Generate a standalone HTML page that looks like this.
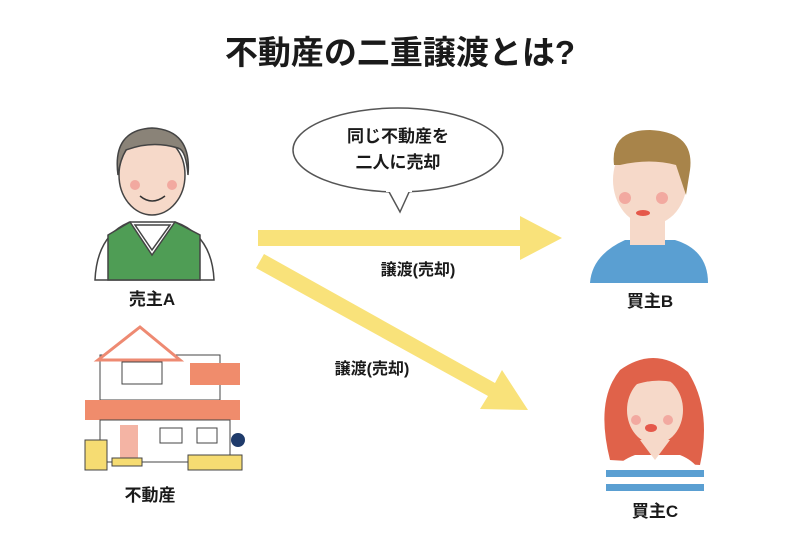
<!DOCTYPE html><html><head><meta charset="utf-8"><style>body{margin:0;background:#fff}svg{display:block}text{font-family:"Liberation Sans","Noto Sans CJK JP",sans-serif;font-weight:bold;fill:#1a1a1a}</style></head><body>
<svg width="800" height="535" viewBox="0 0 800 535">
<text x="400" y="64" font-size="33" text-anchor="middle">不動産の二重譲渡とは?</text>
<ellipse cx="398" cy="150" rx="105" ry="42" fill="#fff" stroke="#555" stroke-width="1.5"/>
<path d="M388 190 L400 212 L410 190" fill="#fff" stroke="#555" stroke-width="1.5"/>
<rect x="386" y="186" width="26" height="6" fill="#fff"/>
<text x="398" y="142" font-size="17" text-anchor="middle">同じ不動産を</text>
<text x="398" y="168" font-size="17" text-anchor="middle">二人に売却</text>
<polygon points="258,230 520,230 520,216 562,238 520,260 520,246 258,246" fill="#f9e27a"/>
<polygon points="256,268 264,254 495,383 502,370 528,410 480,409 488,396" fill="#f9e27a"/>
<text x="418" y="275" font-size="16" text-anchor="middle">譲渡(売却)</text>
<text x="372" y="374" font-size="16" text-anchor="middle">譲渡(売却)</text>
<g stroke="#444" stroke-width="1.5">
<path d="M95 280 Q97 235 130 222 L175 222 Q212 235 214 280 Z" fill="#fff"/>
<path d="M108 280 L108 235 L130 222 L152 255 L175 222 L200 235 L200 280 Z" fill="#4f9d55"/>
<path d="M135 225 L152 250 L170 225 Z" fill="#fff"/>
<ellipse cx="152" cy="175" rx="33" ry="40" fill="#f6d9c9"/>
<path d="M118 175 Q112 130 152 128 Q192 130 188 175 Q186 150 178 148 Q152 140 126 150 Q120 160 118 175 Z" fill="#8a8378"/>
</g>
<circle cx="135" cy="185" r="5" fill="#f2a9a0"/><circle cx="172" cy="185" r="5" fill="#f2a9a0"/>
<path d="M140 196 Q152 206 165 196" stroke="#333" stroke-width="1.5" fill="none"/>
<text x="152" y="305" font-size="17" text-anchor="middle">売主A</text>
<g stroke="#444" stroke-width="1">
<rect x="100" y="355" width="120" height="45" fill="#fff"/>
<polygon points="98,360 140,327 180,360" fill="#fff" stroke="#ee8a72" stroke-width="3"/>
<rect x="190" y="363" width="50" height="22" fill="#f08c6c" stroke="none"/>
<rect x="122" y="362" width="40" height="22" fill="#fff"/>
<rect x="85" y="400" width="155" height="20" fill="#f08c6c" stroke="none"/>
<rect x="100" y="420" width="130" height="42" fill="#fff"/>
<rect x="120" y="425" width="18" height="36" fill="#f4b4a4" stroke="none"/>
<rect x="160" y="428" width="22" height="15" fill="#fff"/><rect x="197" y="428" width="20" height="15" fill="#fff"/>
<rect x="85" y="440" width="22" height="30" fill="#f6dc72"/>
<rect x="188" y="455" width="54" height="15" fill="#f6dc72"/>
<rect x="112" y="458" width="30" height="8" fill="#f6dc72"/>
</g>
<circle cx="238" cy="440" r="7" fill="#1f3b6b"/>
<text x="150" y="501" font-size="17" text-anchor="middle">不動産</text>
<path d="M590 283 Q592 255 625 240 L675 240 Q708 250 708 283 Z" fill="#5a9fd2"/>
<rect x="630" y="215" width="35" height="30" fill="#f6d9c9"/>
<ellipse cx="650" cy="180" rx="37" ry="45" fill="#f6d9c9"/>
<path d="M614 165 Q610 130 650 130 Q695 132 690 170 L686 195 L676 165 Q650 158 620 165 Z" fill="#a8844a"/>
<circle cx="625" cy="198" r="6" fill="#f2a9a0"/><circle cx="662" cy="198" r="6" fill="#f2a9a0"/>
<ellipse cx="643" cy="213" rx="7" ry="3" fill="#e5584a"/>
<text x="650" y="307" font-size="17" text-anchor="middle">買主B</text>
<path d="M610 460 Q595 400 620 370 Q655 345 688 372 Q712 410 700 465 Z" fill="#e0624a"/>
<path d="M605 492 Q608 465 635 455 L680 455 Q705 465 705 492 Z" fill="#fff"/>
<rect x="606" y="470" width="98" height="7" fill="#5a9fd2"/><rect x="606" y="484" width="98" height="7" fill="#5a9fd2"/>
<path d="M640 440 L655 460 L670 440 Z" fill="#f6d9c9"/>
<ellipse cx="655" cy="410" rx="28" ry="34" fill="#f6d9c9"/>
<path d="M625 405 Q625 370 655 370 Q688 372 686 405 L684 385 Q655 375 627 388 Z" fill="#e0624a"/>
<circle cx="636" cy="420" r="5" fill="#f2a9a0"/><circle cx="668" cy="420" r="5" fill="#f2a9a0"/>
<ellipse cx="651" cy="428" rx="6" ry="4" fill="#e5584a"/>
<text x="655" y="517" font-size="17" text-anchor="middle">買主C</text>
</svg></body></html>
